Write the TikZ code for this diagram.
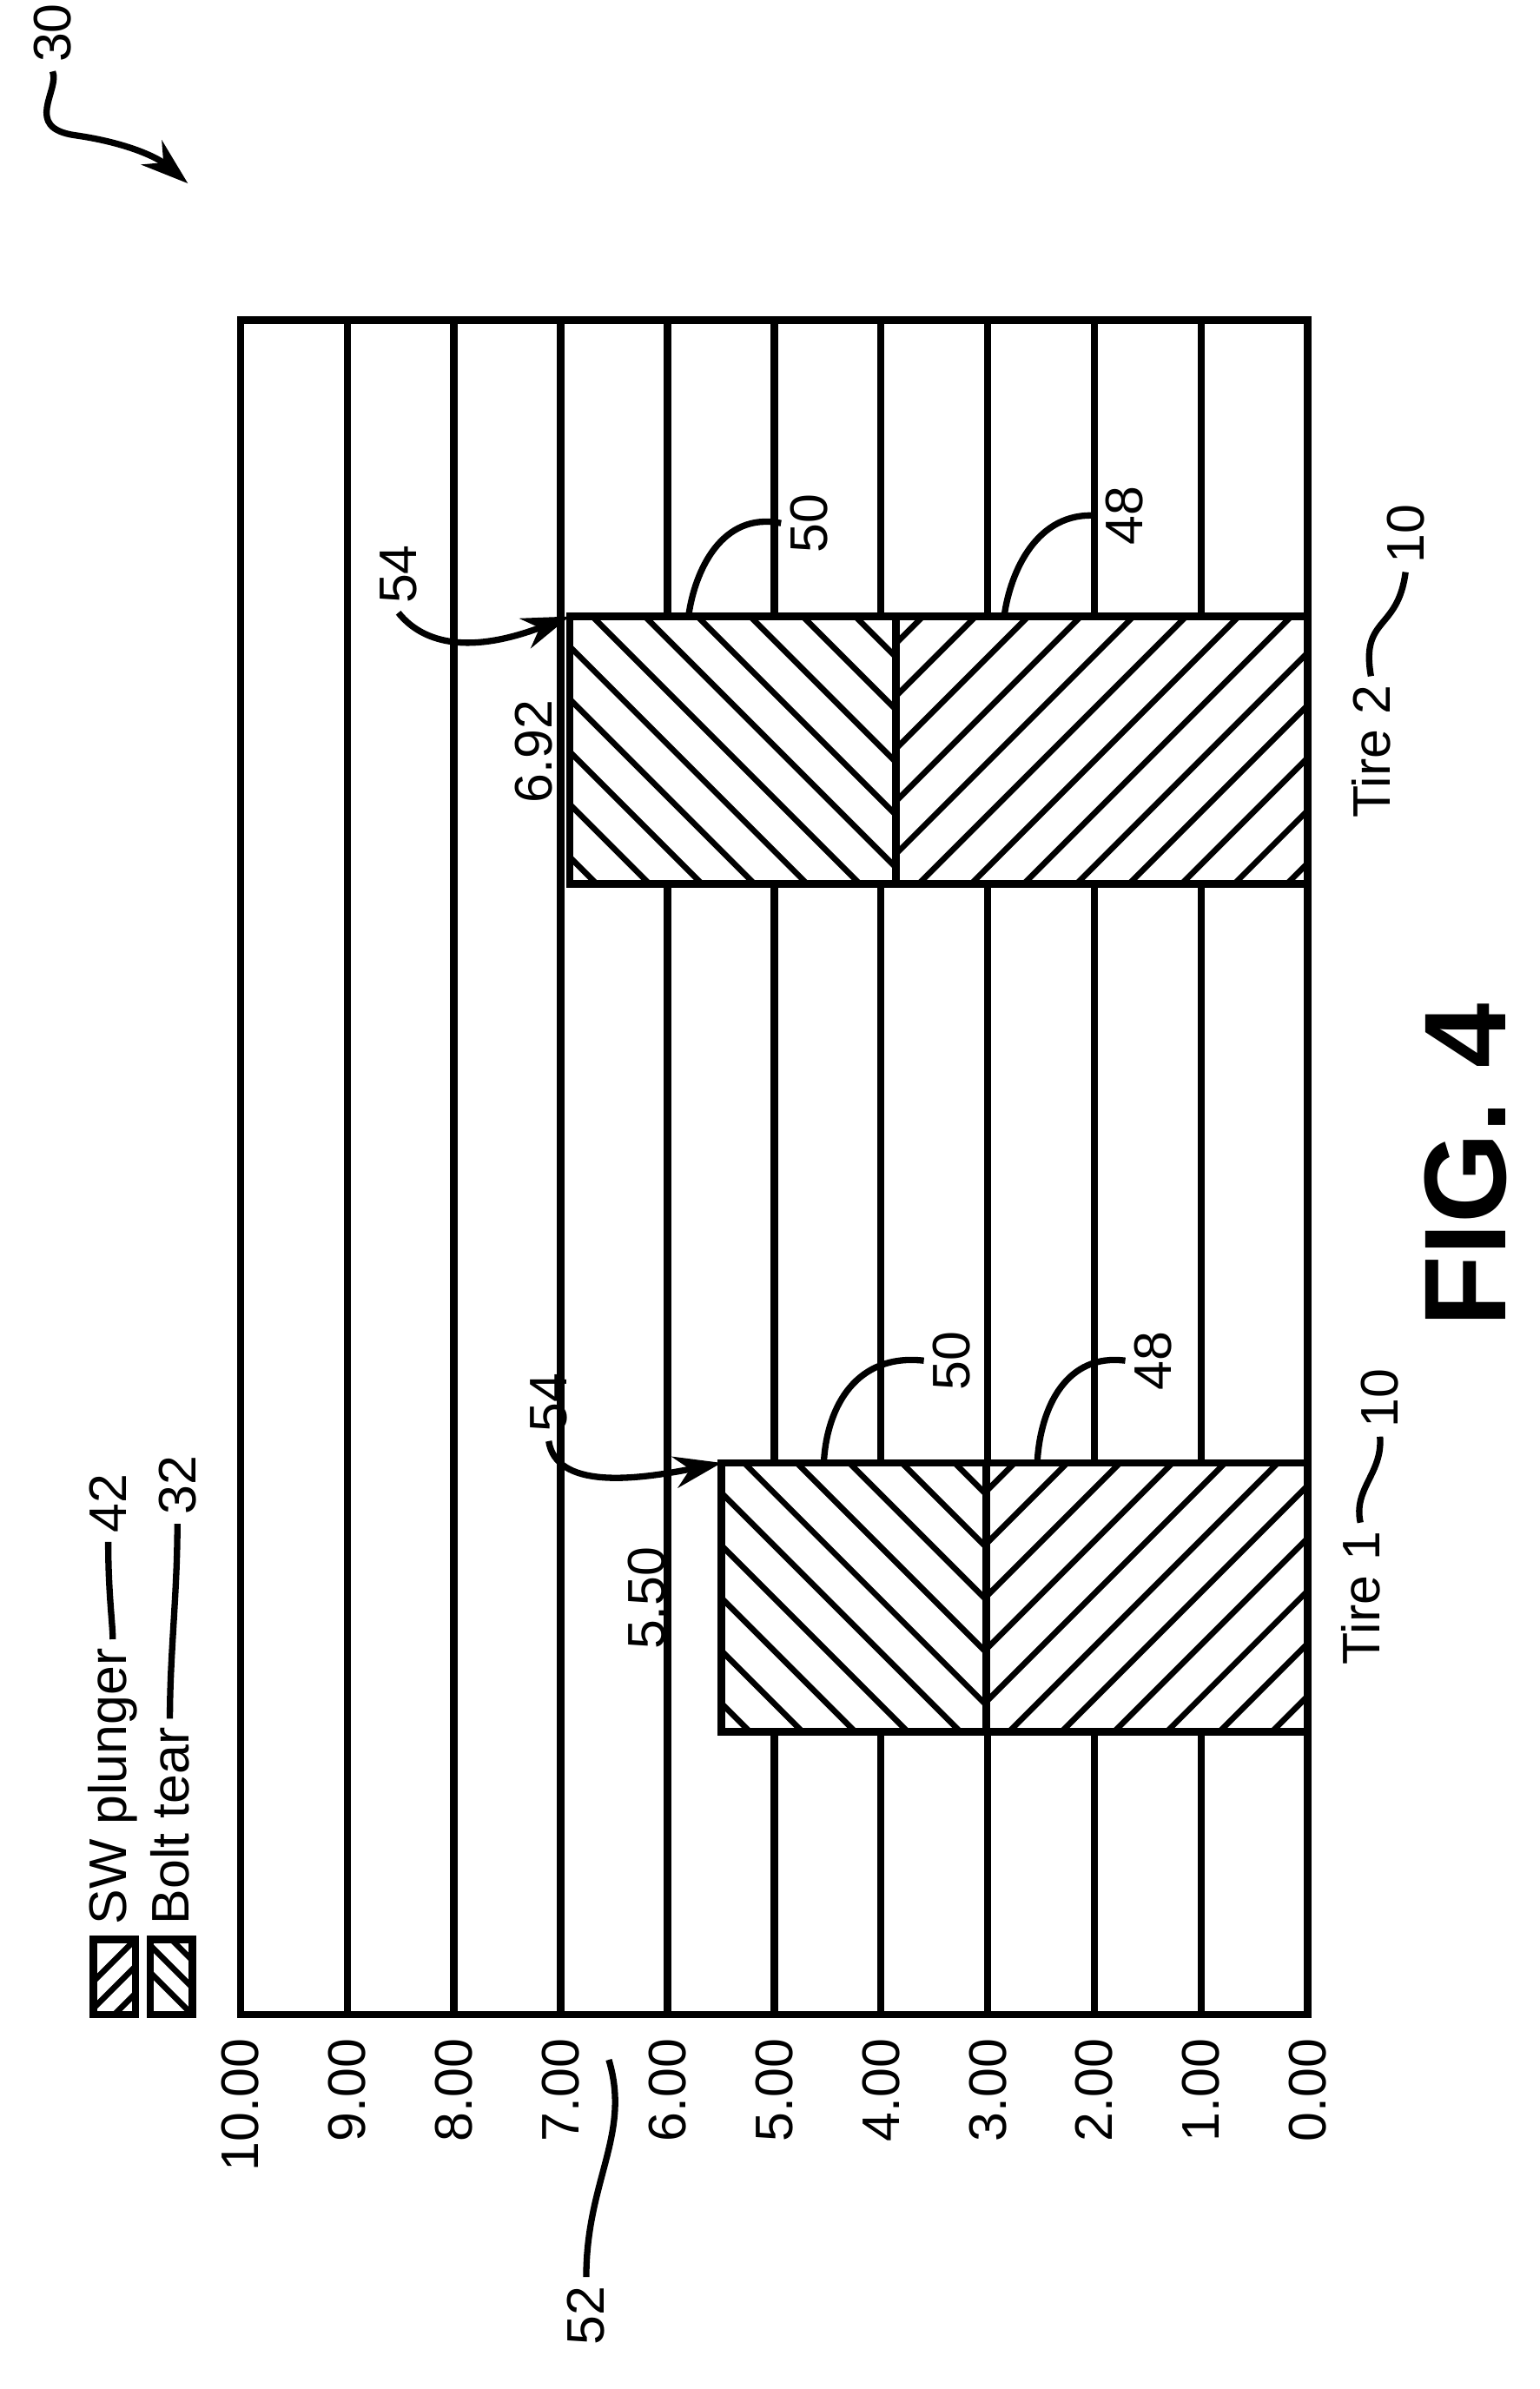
\documentclass[tikz,border=0pt]{standalone}
\usepackage{fontspec}
\setmainfont{Liberation Sans}
\usetikzlibrary{arrows.meta}
\begin{document}
\begin{tikzpicture}[x=0.01cm,y=-0.01cm,line width=1.4pt,
  lbl/.style={rotate=90,font=\fontsize{10}{12}\selectfont,inner sep=1pt},
  lead/.style={line width=1.2pt},
  arr/.style={line width=1.2pt,-{Stealth[length=9pt,width=6pt]}}]
\useasboundingbox (0,0) rectangle (1024,1589);
% frame and grid
\draw (160,213) rectangle (870,1340);
\foreach \v in {1,...,9}{\draw ({870-71*\v},213) -- ({870-71*\v},1340);}
\foreach \v/\t in {0/0.00,1/1.00,2/2.00,3/3.00,4/4.00,5/5.00,6/6.00,7/7.00,8/8.00,9/9.00,10/10.00}
  {\node[lbl,anchor=east] (yl\v) at ({870-71*\v},1350) {\t};}
% bars
\newcommand{\mybar}[5]{% ytop ybot xleft xsplit name
  \fill[white] (#3,#1) rectangle (870,#2);
  \begin{scope}\clip (#3,#1) rectangle (#4,#2);
    \foreach \k in {-10,...,20}{\draw[line width=1.1pt] ({#3+35*\k-300},#1) -- ++(400,400);}
  \end{scope}
  \begin{scope}\clip (#4,#1) rectangle (870,#2);
    \foreach \k in {-10,...,25}{\draw[line width=1.1pt] ({#4+35*\k-300},#2) -- ++(400,-400);}
  \end{scope}
  \draw (#3,#1) rectangle (870,#2);
  \draw (#4,#1) -- (#4,#2);
  \coordinate (#5) at (#3,#1);}
\mybar{410}{588}{379}{596}{b2}
\mybar{973}{1152}{480}{656}{b1}
% value labels
\node[lbl] (v2) at (355,500) {6.92};
\node[lbl] (v1) at (430,1063) {5.50};
\node[lbl] (t2) at (912,500) {Tire 2};
\node[lbl] (t1) at (905,1063) {Tire 1};
% legend
\begin{scope}
\clip (62,1290) rectangle (90,1340);
\foreach \k in {0,...,4}{\draw[line width=1.1pt] (30+18*\k,1350) -- ++(60,-60);}
\end{scope}
\draw (62,1290) rectangle (90,1340);
\begin{scope}
\clip (100,1290) rectangle (128,1340);
\foreach \k in {0,...,4}{\draw[line width=1.1pt] (68+18*\k,1280) -- ++(60,60);}
\end{scope}
\draw (100,1290) rectangle (128,1340);
\node[lbl,anchor=west] (sw) at (75,1286) {SW plunger};
\node[lbl,anchor=west] (bt) at (113,1286) {Bolt tear};
\node[lbl] (n42) at (72,1000) {42};
\node[lbl] (n32) at (118,988) {32};
\draw[lead] (sw.east) .. controls (75,1080) and (72,1060) .. (n42.west);
\draw[lead] (bt.east) .. controls (113,1100) and (118,1060) .. (n32.west);
% FIG
\node[rotate=90,font=\fontsize{22}{26}\selectfont\bfseries] (fig) at (975,775) {FIG. 4};
% reference numerals
\node[lbl] (n30) at (35,22) {30};
\coordinate (a30) at (125,122);
\draw[arr] (n30.west) .. controls (40,60) and (15,85) .. (50,90) .. controls (85,95) and (105,105) .. (a30);
\node[lbl] (n52) at (390,1540) {52};
\draw[lead] (n52.east) .. controls (390,1450) and (420,1420) .. (405,1370);
\node[lbl] (n54a) at (265,382) {54};
\draw[arr] (n54a.west) .. controls (275,420) and (300,440) .. (b2);
\node[lbl] (n54b) at (365,933) {54};
\draw[arr] (n54b.west) .. controls (370,990) and (420,985) .. (b1);
\node[lbl] (n50a) at (538,348) {50};
\draw[lead] (n50a.north) .. controls (480,340) and (462,380) .. (458,410);
\node[lbl] (n48a) at (748,343) {48};
\draw[lead] (n48a.north) .. controls (690,340) and (672,380) .. (668,410);
\node[lbl] (n50b) at (633,905) {50};
\draw[lead] (n50b.north) .. controls (570,900) and (550,935) .. (548,973);
\node[lbl] (n48b) at (767,905) {48};
\draw[lead] (n48b.north) .. controls (710,900) and (692,935) .. (690,973);
\node[lbl] (n10a) at (935,355) {10};
\draw[lead] (n10a.west) .. controls (930,420) and (905,410) .. (t2.east);
\node[lbl] (n10b) at (918,930) {10};
\draw[lead] (n10b.west) .. controls (920,980) and (900,990) .. (t1.east);
\end{tikzpicture}
\end{document}
